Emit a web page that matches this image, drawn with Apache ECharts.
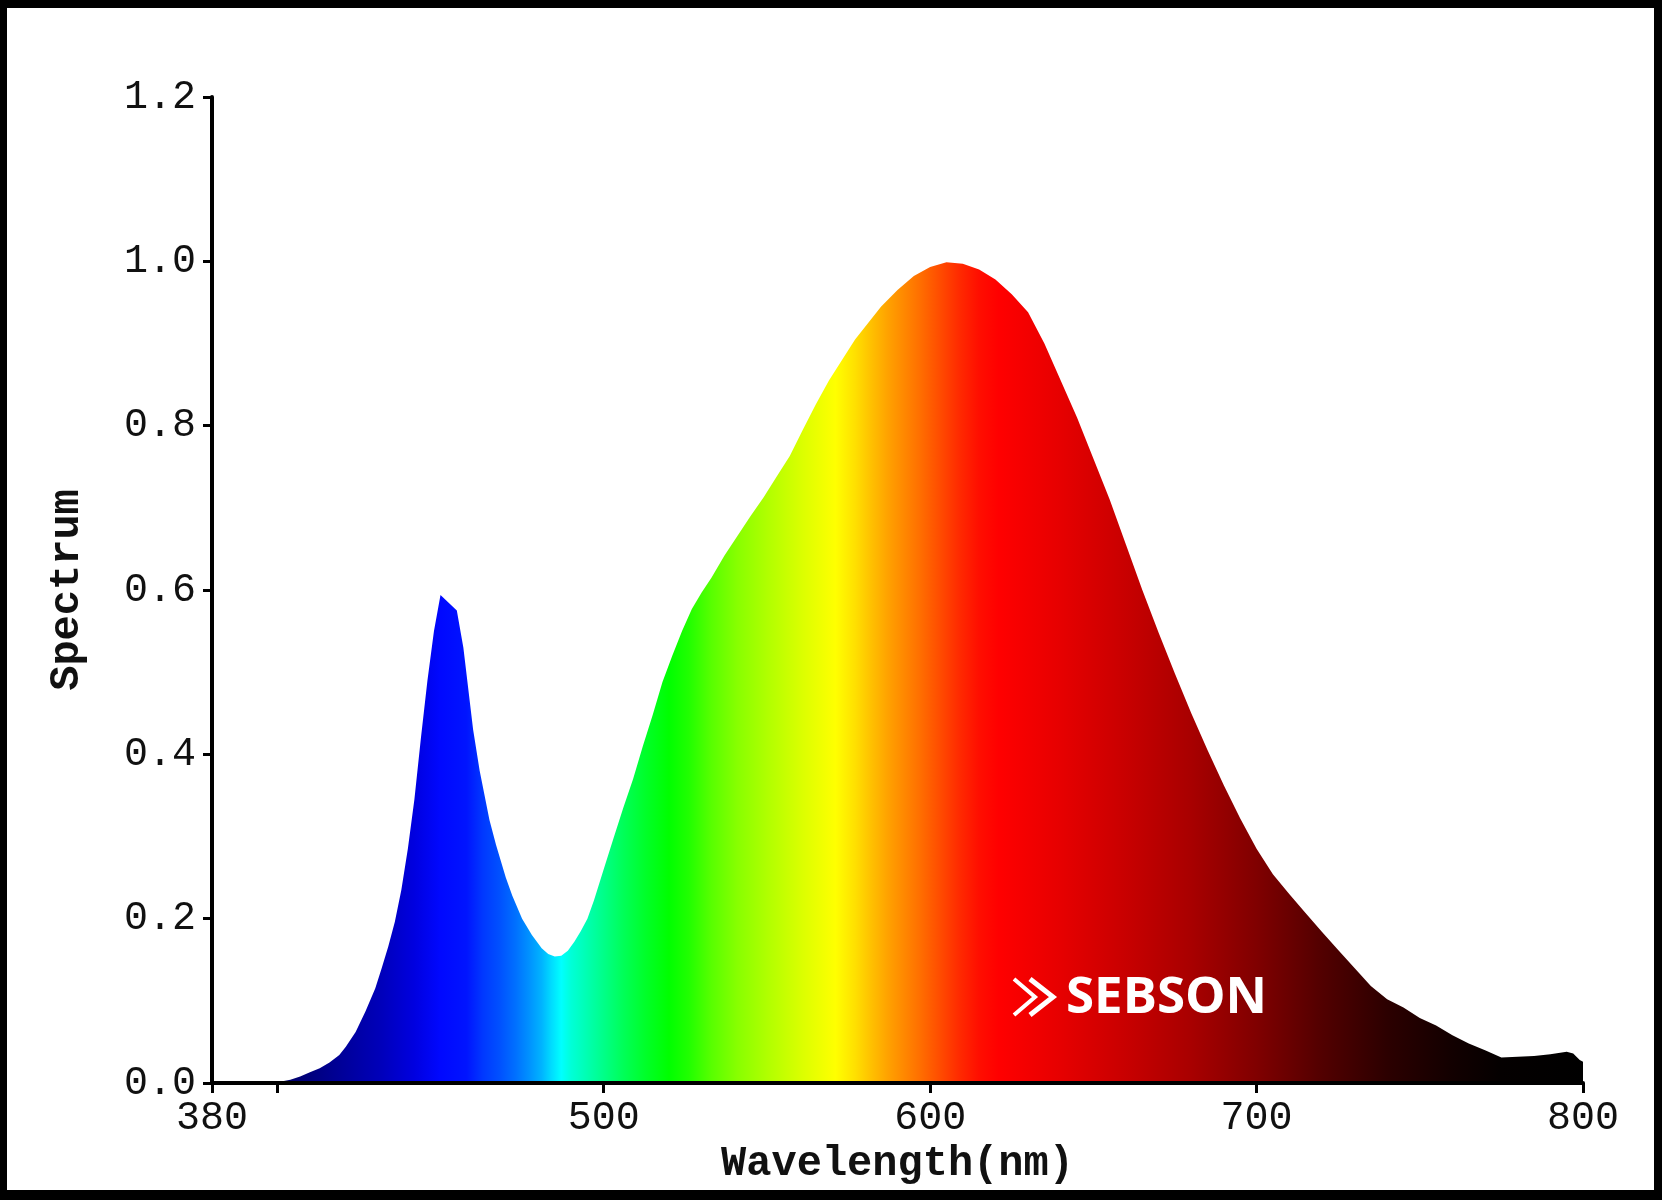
<!DOCTYPE html>
<html>
<head>
<meta charset="utf-8">
<script src="https://cdn.jsdelivr.net/npm/echarts@6/dist/echarts.min.js"></script>
<style>
html,body{margin:0;padding:0;background:#fff;}
#chart{width:1662px;height:1200px;}
</style>
</head>
<body>
<div id="chart"></div>
<script>
// Wavelengths (nm) and relative spectrum values
const wavelengths = [380,395,400,404,407,410,413,416,419,421,424,427,430,432,434,436,438,440,442,444,446,448,450,455,457,460,462,465,467,470,472,475,478,481,483,485,487,489,491,493,495,497,500,503,506,509,512,515,518,521,524,527,530,533,537,541,545,549,553,557,561,565,569,573,577,581,585,590,595,600,605,610,615,620,625,630,635,640,645,650,655,660,665,670,675,680,685,690,695,700,705,710,715,720,725,730,735,740,745,750,755,760,765,770,775,780,785,790,795,797,799,800];
const spectrum = [0,0,0.001,0.004,0.008,0.013,0.018,0.025,0.034,0.044,0.062,0.087,0.115,0.14,0.166,0.196,0.235,0.285,0.345,0.42,0.49,0.55,0.594,0.575,0.53,0.43,0.38,0.32,0.29,0.25,0.228,0.2,0.18,0.164,0.157,0.154,0.155,0.161,0.172,0.185,0.2,0.222,0.26,0.298,0.335,0.37,0.41,0.448,0.488,0.52,0.55,0.577,0.597,0.615,0.642,0.666,0.69,0.713,0.738,0.763,0.795,0.826,0.855,0.88,0.905,0.925,0.945,0.965,0.982,0.993,0.999,0.997,0.99,0.978,0.96,0.938,0.9,0.855,0.81,0.76,0.71,0.655,0.6,0.548,0.498,0.45,0.405,0.362,0.322,0.285,0.254,0.23,0.207,0.184,0.162,0.14,0.118,0.102,0.092,0.079,0.07,0.058,0.048,0.04,0.031,0.032,0.033,0.035,0.038,0.036,0.028,0.026];

const xTickValues = [380,400,500,600,700,800];
const xLabelValues = [380,500,600,700,800];
const yMin = 0, yMax = 1.2, yStep = 0.2;

// spectral colour stops: [wavelength, colour]
const colourStops = [
  [380,'#000030'],[405,'#000070'],[420,'#00009a'],[432,'#0000bb'],[442,'#0000e0'],
  [450,'#0008ff'],[458,'#0014ff'],[463,'#0038ff'],[468,'#0050ff'],[473,'#0070ff'],
  [477,'#0090ff'],[481,'#00b4ff'],[484,'#00dcff'],[487,'#00ffff'],[490,'#00ffd8'],
  [495,'#00ffb0'],[500,'#00ff88'],[506,'#00ff58'],[513,'#00ff28'],[520,'#00ff00'],
  [526,'#20ff00'],[533,'#58ff00'],[541,'#88ff00'],[551,'#b4ff00'],[561,'#dcff00'],
  [571,'#ffff00'],[577,'#ffe000'],[582,'#ffc000'],[587,'#ffa200'],[592,'#ff8800'],
  [597,'#ff6e00'],[603,'#ff4c00'],[609,'#ff2a00'],[615,'#ff0e00'],[621,'#ff0000'],
  [640,'#e60000'],[660,'#c80000'],[680,'#a80000'],[700,'#800000'],[720,'#520000'],
  [740,'#2c0000'],[760,'#120000'],[775,'#040000'],[800,'#000000']
];

const xMin = 380, xMax = 800;
const seriesData = wavelengths.map((w, i) => [w, spectrum[i]]);
const gradStops = colourStops.map(([w, c]) => ({offset: (w - xMin) / (xMax - xMin), color: c}));

const monoFont = '"Liberation Mono", "DejaVu Sans Mono", monospace';

const chart = echarts.init(document.getElementById('chart'), null, {renderer: 'canvas'});
chart.setOption({
  animation: false,
  backgroundColor: '#ffffff',
  grid: {left: 212, right: 79, top: 97, bottom: 117, containLabel: false},
  xAxis: {
    type: 'value',
    min: xMin,
    max: xMax,
    z: 5,
    name: 'Wavelength(nm)',
    nameLocation: 'middle',
    nameGap: 60,
    nameTextStyle: {fontFamily: monoFont, fontSize: 42, fontWeight: 'bold', color: '#111'},
    axisLine: {show: true, onZero: false, lineStyle: {color: '#000', width: 4}},
    axisTick: {show: true, length: 10, lineStyle: {color: '#000', width: 3}, customValues: xTickValues},
    axisLabel: {show: true, customValues: xLabelValues, margin: 15, color: '#111', fontFamily: monoFont, fontSize: 40, showMinLabel: true, showMaxLabel: true},
    splitLine: {show: false}
  },
  yAxis: {
    type: 'value',
    min: yMin,
    max: yMax,
    interval: yStep,
    z: 5,
    name: 'Spectrum',
    nameLocation: 'middle',
    nameGap: 124,
    nameTextStyle: {fontFamily: monoFont, fontSize: 42, fontWeight: 'bold', color: '#111'},
    axisLine: {show: true, lineStyle: {color: '#000', width: 4}},
    axisTick: {show: true, length: 9, lineStyle: {color: '#000', width: 3}},
    axisLabel: {margin: 16, color: '#111', fontFamily: monoFont, fontSize: 40, formatter: v => v.toFixed(1)},
    splitLine: {show: false}
  },
  series: [{
    type: 'line',
    data: seriesData,
    showSymbol: false,
    smooth: false,
    lineStyle: {width: 0, opacity: 0},
    areaStyle: {
      opacity: 1,
      color: {type: 'linear', x: 0, y: 0, x2: 1, y2: 0, colorStops: gradStops}
    },
    z: 2
  }],
  graphic: [
    {type: 'text', z: 100, left: 1066, top: 973,
     style: {text: 'SEBSON', fill: '#ffffff', font: 'bold 51px "Open Sans", "Noto Sans", sans-serif'}},
    {type: 'polyline', z: 100, shape: {points: [[1014,979],[1035,997],[1014,1015]]},
     style: {stroke: '#ffffff', lineWidth: 4, fill: null}},
    {type: 'polyline', z: 100, shape: {points: [[1030,979],[1053,997],[1030,1015]]},
     style: {stroke: '#ffffff', lineWidth: 5, fill: null}},
    {type: 'rect', z: 200, shape: {x: 0, y: 0, width: 1662, height: 8}, style: {fill: '#000'}},
    {type: 'rect', z: 200, shape: {x: 0, y: 1190, width: 1662, height: 10}, style: {fill: '#000'}},
    {type: 'rect', z: 200, shape: {x: 0, y: 0, width: 7, height: 1200}, style: {fill: '#000'}},
    {type: 'rect', z: 200, shape: {x: 1654, y: 0, width: 8, height: 1200}, style: {fill: '#000'}}
  ]
});
</script>
</body>
</html>
